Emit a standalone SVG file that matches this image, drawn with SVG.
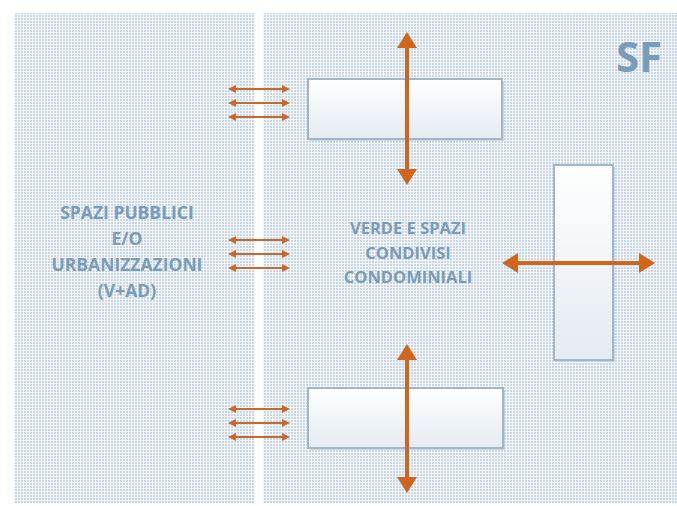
<svg xmlns="http://www.w3.org/2000/svg" width="677" height="506" viewBox="0 0 677 506">
<defs>
<pattern id="dots" x="0" y="0" width="3" height="3" patternUnits="userSpaceOnUse">
<rect width="3" height="3" fill="#f2f5f9"/>
<rect x="0" y="0" width="2" height="2" fill="#c9d6e3"/>
</pattern>
<linearGradient id="boxg" x1="0" y1="0" x2="0" y2="1">
<stop offset="0" stop-color="#ffffff"/>
<stop offset="1" stop-color="#e4ebf2"/>
</linearGradient>
<marker id="big" viewBox="0 0 16 20" refX="2" refY="10" markerWidth="16" markerHeight="20" markerUnits="userSpaceOnUse" orient="auto-start-reverse">
<path d="M0,0 L16,10 L0,20 Z" fill="#cf661c"/>
</marker>
<marker id="small" viewBox="0 0 8 8" refX="1" refY="4" markerWidth="8" markerHeight="8" markerUnits="userSpaceOnUse" orient="auto-start-reverse">
<path d="M0,0 L8,4 L0,8 Z" fill="#c9682a"/>
</marker>
</defs>
<style>
.bg{fill:url(#dots)}
.box{fill:url(#boxg);stroke:#a3b6c8;stroke-width:2}
.shadow{fill:#b8c6d3;opacity:0.6}
.big{stroke:#cf661c;stroke-width:4;fill:none;marker-start:url(#big);marker-end:url(#big)}
.small{stroke:#c9682a;stroke-width:2.2;fill:none;marker-start:url(#small);marker-end:url(#small)}
.lbl{font-family:"Open Sans","Liberation Sans",sans-serif;font-weight:bold;fill:#7b9cb8;text-anchor:middle}
</style>
<rect width="677" height="506" fill="#ffffff"/>
<g id="background">
<rect class="bg" x="14" y="13" width="241" height="490"/>
<rect class="bg" x="263" y="13" width="414" height="490"/>
</g>
<g id="box-top">
<rect class="shadow" x="310" y="81" width="194" height="60"/>
<rect class="box" x="308" y="79" width="194" height="60"/>
</g>
<g id="box-bottom">
<rect class="shadow" x="310" y="390" width="195" height="60"/>
<rect class="box" x="308" y="388" width="195" height="60"/>
</g>
<g id="box-right">
<rect class="shadow" x="556" y="167" width="59" height="195"/>
<rect class="box" x="554" y="165" width="59" height="195"/>
</g>
<g id="connectors">
<line class="big" x1="407" y1="46" x2="407" y2="171"/>
<line class="big" x1="407" y1="358" x2="407" y2="479"/>
<line class="big" x1="516" y1="263" x2="641" y2="263"/>
<line class="small" x1="235" y1="89" x2="283" y2="89"/>
<line class="small" x1="235" y1="103" x2="283" y2="103"/>
<line class="small" x1="235" y1="117" x2="283" y2="117"/>
<line class="small" x1="235" y1="240" x2="283" y2="240"/>
<line class="small" x1="235" y1="254" x2="283" y2="254"/>
<line class="small" x1="235" y1="268" x2="283" y2="268"/>
<line class="small" x1="235" y1="409" x2="283" y2="409"/>
<line class="small" x1="235" y1="423" x2="283" y2="423"/>
<line class="small" x1="235" y1="437" x2="283" y2="437"/>
</g>
<g id="label-left">
<text class="lbl" font-size="17.5" x="127" y="219">SPAZI PUBBLICI</text>
<text class="lbl" font-size="17.5" x="127" y="245">E/O</text>
<text class="lbl" font-size="17.5" x="127" y="271">URBANIZZAZIONI</text>
<text class="lbl" font-size="17.5" x="127" y="297">(V+AD)</text>
</g>
<g id="label-center">
<text class="lbl" font-size="16.5" x="408" y="234">VERDE E SPAZI</text>
<text class="lbl" font-size="16.5" x="408" y="259">CONDIVISI</text>
<text class="lbl" font-size="16.5" x="408" y="283">CONDOMINIALI</text>
</g>
<g id="label-sf">
<text class="lbl" font-size="42" x="639" y="72" fill="#6f94b2">SF</text>
</g>
</svg>
